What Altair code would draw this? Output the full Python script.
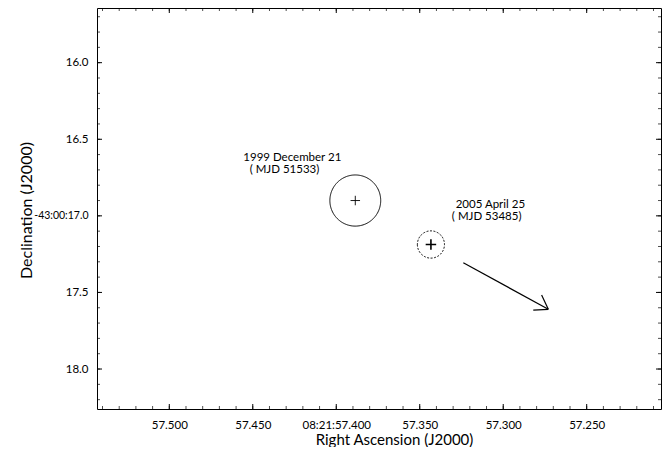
import math
import altair as alt
import pandas as pd

# ---- data ----
# source positions (RA seconds past 08:21, Dec arcsec past -43:00)
src_ra = [57.3886, 57.3433]
src_dec = [16.900, 17.187]
src_err = [0.167, 0.089]          # error-circle radius, arcsec
src_id = ["1999", "2005"]

# annotation labels
lab_text = ["1999 December 21", "( MJD 51533)", "2005 April 25", "( MJD 53485)"]
lab_ra = [57.4263, 57.4310, 57.3077, 57.3099]
lab_dec = [16.644, 16.718, 16.950, 17.026]

# proper-motion arrow: segments (start -> end)
arr_ra1 = [57.3239, 57.2770, 57.2820]
arr_dec1 = [17.306, 17.517, 17.615]
arr_ra2 = [57.2730, 57.2730, 57.2730]
arr_dec2 = [17.610, 17.610, 17.610]

# axes
x_major = [57.500, 57.450, 57.400, 57.350, 57.300, 57.250]
y_major = [16.0, 16.5, 17.0, 17.5, 18.0]
x_minor = [round(57.21 + 0.01 * i, 2) for i in range(34)]
y_minor = [round(15.7 + 0.1 * i, 1) for i in range(26)]
x_domain = [57.2055, 57.5433]
y_domain = [15.643, 18.261]

DEC0 = 43 + 17 / 3600.0
SEC_PER_ARCSEC = 1.0 / (15.0 * math.cos(math.radians(DEC0)))

W, H = 564, 401
FONT = "Lato"

# ---- tables ----
circ_rows = []
for cid, cra, cdec, r in zip(src_id, src_ra, src_dec, src_err):
    for k in range(121):
        t = 2 * math.pi * k / 120
        circ_rows.append({"id": cid, "k": k,
                          "ra": cra + r * math.cos(t) * SEC_PER_ARCSEC,
                          "dec": cdec + r * math.sin(t)})
circ = pd.DataFrame(circ_rows)
src = pd.DataFrame({"id": src_id, "ra": src_ra, "dec": src_dec})
labs = pd.DataFrame({"txt": lab_text, "ra": lab_ra, "dec": lab_dec})
arr = pd.DataFrame({"ra": arr_ra1, "dec": arr_dec1, "ra2": arr_ra2, "dec2": arr_dec2})

xs = alt.Scale(domain=x_domain, reverse=True, nice=False, zero=False)
ys = alt.Scale(domain=y_domain, reverse=True, nice=False, zero=False)

xaxis = alt.Axis(values=x_major, ticks=False, tickSize=0, domain=False, grid=False,
                 labelExpr="abs(datum.value-57.4)<1e-6 ? '08:21:57.400' : format(datum.value, '.3f')",
                 labelFont=FONT, labelFontSize=11.5, labelColor="black", labelPadding=10,
                 labelFlush=False, labelOverlap=False,
                 title="Right Ascension (J2000)", titleFont=FONT, titleFontSize=15,
                 titleFontWeight="normal", titleColor="black", titleX=297, titleY=35.5,
                 titleBaseline="alphabetic", titleAlign="center")
yaxis = alt.Axis(values=y_major, ticks=False, tickSize=0, domain=False, grid=False,
                 labelExpr="abs(datum.value-17)<1e-6 ? '-43:00:17.0' : format(datum.value, '.1f')",
                 labelFont=FONT,
                 labelFontSize=alt.ConditionalAxisNumber(
                     condition={"test": "abs(datum.value-17)<1e-6", "value": 10.5}, value=11.5),
                 labelColor="black", labelPadding=9,
                 labelFlush=False, labelOverlap=False,
                 title="Declination (J2000)", titleFont=FONT, titleFontSize=16,
                 titleFontWeight="normal", titleColor="black", titleX=-66, titleY=202,
                 titleAngle=270, titleBaseline="alphabetic", titleAlign="center")


def X(f="ra"):
    return alt.X(f, type="quantitative", scale=xs, axis=xaxis)


def Y(f="dec"):
    return alt.Y(f, type="quantitative", scale=ys, axis=yaxis)


circles = alt.Chart(circ).mark_line(color="black", strokeWidth=1, clip=True).encode(
    x=X(), y=Y(), detail="id:N", order="k:Q",
    strokeDash=alt.StrokeDash("id:N", scale=alt.Scale(domain=src_id, range=[[1, 0], [2, 1.5]]), legend=None),
)

plus1 = alt.Chart(src[src.id == "1999"]).mark_point(
    shape="M-1,0L1,0M0,-1L0,1", size=90, filled=False, color="black", strokeWidth=0.9, opacity=1
).encode(x=X(), y=Y())
plus2 = alt.Chart(src[src.id == "2005"]).mark_point(
    shape="M-1,0L1,0M0,-1L0,1", size=110, filled=False, color="black", strokeWidth=1.6, opacity=1
).encode(x=X(), y=Y())

arrow = alt.Chart(arr).mark_rule(color="black", strokeWidth=1.2).encode(
    x=X(), y=Y(), x2="ra2", y2="dec2"
)

texts = alt.Chart(labs).mark_text(font=FONT, fontSize=11.5, color="black",
                                  align="center", baseline="alphabetic").encode(
    x=X(), y=Y(), text="txt"
)

xmaj = pd.DataFrame({"v": x_major})
xmin = pd.DataFrame({"v": x_minor})
ymaj = pd.DataFrame({"v": y_major})
ymin = pd.DataFrame({"v": y_minor})


def xticks(df, L, w):
    b = alt.Chart(df).mark_rule(color="black", strokeWidth=w, clip=True).encode(
        x=X("v"), y=alt.value(H), y2=alt.value(H - L))
    t = alt.Chart(df).mark_rule(color="black", strokeWidth=w, clip=True).encode(
        x=X("v"), y=alt.value(0), y2=alt.value(L))
    return [b, t]


def yticks(df, L, w):
    l = alt.Chart(df).mark_rule(color="black", strokeWidth=w, clip=True).encode(
        y=Y("v"), x=alt.value(0), x2=alt.value(L))
    r = alt.Chart(df).mark_rule(color="black", strokeWidth=w, clip=True).encode(
        y=Y("v"), x=alt.value(W), x2=alt.value(W - L))
    return [l, r]


layers = (xticks(xmin, 3, 0.7) + xticks(xmaj, 5, 1) +
          yticks(ymin, 3, 0.7) + yticks(ymaj, 5, 1) +
          [circles, plus1, plus2, arrow, texts])

chart = alt.layer(*layers).properties(
    width=W, height=H,
    autosize=alt.AutoSizeParams(type="none"),
    padding={"left": 89, "top": 0, "right": 1, "bottom": 38},
    background="white",
).configure_view(stroke="black", strokeWidth=1)

chart.save("out.html", embed_options={"renderer": "svg", "actions": False})
